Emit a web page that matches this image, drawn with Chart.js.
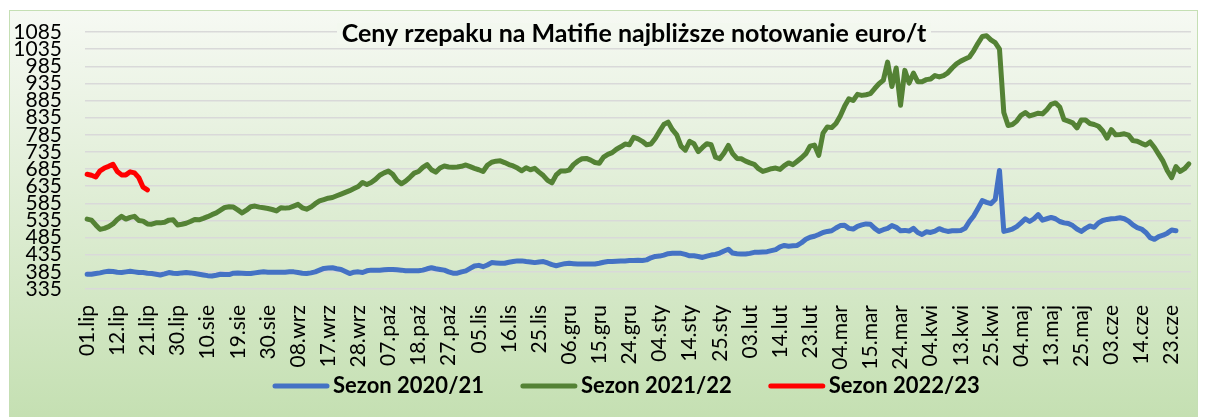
<!DOCTYPE html>
<html>
<head>
<meta charset="utf-8">
<script src="https://cdn.jsdelivr.net/npm/chart.js@4.4.1/dist/chart.umd.min.js"></script>
<style>
  html, body { margin: 0; padding: 0; background: #fff; }
  #frame {
    position: absolute; left: 9px; top: 10px; width: 1187px; height: 420px;
    border: 1.5px solid #c5dfb4;
    background: linear-gradient(#f6f9f3, #c3dfb0);
  }
  #c { position: absolute; left: 0; top: 0; }
</style>
</head>
<body>
<div id="frame"></div>
<canvas id="c" width="1205" height="417"></canvas>
<script>
// Ceny rzepaku na Matifie - najbliższe notowanie, euro/t

const tickLabels = [
  '01.lip', '12.lip', '21.lip', '30.lip', '10.sie', '19.sie', '30.sie', '08.wrz', '17.wrz', '28.wrz',
  '07.paź', '18.paź', '27.paź', '05.lis', '16.lis', '25.lis', '06.gru', '15.gru', '24.gru', '04.sty',
  '14.sty', '25.sty', '03.lut', '14.lut', '23.lut', '04.mar', '15.mar', '24.mar', '04.kwi', '13.kwi',
  '25.kwi', '04.maj', '13.maj', '25.maj', '03.cze', '14.cze', '23.cze'
];
const daysPerLabel = 7;     // one label every 7 sessions
const sessionCount = 257;   // trading sessions on the axis

// Sezon 2020/21
const season2021 = [
  378,378,380,382,385,387,386,384,383,385,
  387,385,383,383,381,380,378,376,379,383,
  381,380,382,383,382,380,378,376,374,373,
  375,378,377,377,381,382,381,380,380,382,
  384,385,384,384,384,384,384,385,385,383,
  381,380,382,385,390,395,396,397,394,392,
  386,380,384,385,383,388,390,390,390,391,
  392,392,391,390,388,388,388,388,390,394,
  397,394,392,390,385,381,381,385,388,395,
  402,404,400,405,412,411,410,410,413,415,
  417,417,415,414,412,414,415,411,406,403,
  406,409,410,409,408,408,408,408,408,410,
  413,415,415,416,417,417,418,418,419,418,
  420,426,430,431,434,438,439,439,439,436,
  432,432,430,427,431,434,436,440,446,451,
  440,438,437,437,439,442,442,443,444,447,
  450,458,462,460,461,462,470,480,486,489,
  494,500,503,505,513,520,521,512,510,518,
  522,525,524,512,503,508,512,520,515,505,
  506,504,512,500,494,502,500,504,511,506,
  503,505,505,506,512,532,548,570,593,588,
  584,596,681,503,506,510,517,528,540,532,
  540,552,536,540,544,540,532,528,526,520,
  510,503,512,519,515,528,535,538,540,541,
  543,540,533,522,514,510,500,485,480,488,
  492,498,507,505
];

// Sezon 2021/22
const season2122 = [
  539,536,522,509,512,517,525,538,547,539,
  544,547,535,533,525,524,528,528,530,536,
  537,522,524,527,532,538,537,541,546,552,
  557,565,573,575,574,566,557,565,575,577,
  574,572,570,567,563,572,571,572,577,582,
  572,568,574,584,592,596,600,602,607,612,
  617,622,628,634,646,640,646,655,667,674,
  679,670,652,642,650,661,673,678,690,698,
  683,676,688,694,691,690,691,693,697,692,
  687,683,678,696,705,708,709,704,698,694,
  688,680,689,683,687,676,666,652,645,668,
  679,679,682,698,708,715,716,711,704,702,
  720,728,733,743,750,758,756,778,773,766,
  756,758,774,795,815,822,800,785,752,740,
  766,759,736,748,759,756,720,715,732,754,
  730,716,715,708,703,699,686,678,682,686,
  688,684,695,703,698,708,718,730,752,755,
  725,790,808,806,818,840,868,890,885,903,
  900,902,905,920,934,944,997,926,980,871,
  973,936,965,940,940,946,948,958,954,958,
  966,980,992,1000,1006,1012,1030,1052,1072,1074,
  1062,1054,1035,850,812,815,825,842,850,840,
  844,848,846,858,874,878,866,829,825,820,
  805,828,828,818,815,810,796,775,800,785,
  786,788,784,768,766,760,755,764,748,728,
  708,680,660,692,678,686,700
];

// Sezon 2022/23
const season2223 = [670,667,662,680,688,693,699,678,668,668,677,674,660,632,624];

const yMin = 335, yMax = 1085, yStep = 50;

const categories = [];
for (let i = 0; i < sessionCount; i++) {
  categories.push(i % daysPerLabel === 0 ? (tickLabels[i / daysPerLabel] || '') : '');
}

const FONT = 'Lato, "Open Sans", sans-serif';

// title sits on its own light box over the top gridline, like the Excel chart
const titlePlugin = {
  id: 'boxTitle',
  afterDraw(chart) {
    const ctx = chart.ctx;
    ctx.save();
    ctx.fillStyle = '#f3f8ef';
    ctx.fillRect(337, 23, 594, 21);
    ctx.font = 'bold 25px ' + FONT;
    ctx.fillStyle = '#000';
    ctx.textAlign = 'center';
    ctx.textBaseline = 'alphabetic';
    ctx.fillText('Ceny rzepaku na Matifie najbliższe notowanie euro/t', 634, 42);
    ctx.restore();
  }
};

// Excel-like legend under the axis: short thick line, bold name, wide gaps
const legendPlugin = {
  id: 'lineLegend',
  afterDraw(chart) {
    const ctx = chart.ctx;
    const y = 386;
    let x = 273;
    ctx.save();
    ctx.font = 'bold 22px ' + FONT;
    ctx.textBaseline = 'middle';
    ctx.textAlign = 'left';
    chart.data.datasets.forEach(ds => {
      ctx.strokeStyle = ds.borderColor;
      ctx.lineWidth = 5;
      ctx.lineCap = 'round';
      ctx.beginPath();
      ctx.moveTo(x + 2, y);
      ctx.lineTo(x + 54, y);
      ctx.stroke();
      ctx.fillStyle = '#000';
      ctx.fillText(ds.label, x + 60, y);
      x += 60 + ctx.measureText(ds.label).width + 37;
    });
    ctx.restore();
  }
};

const line = (label, data, color) => ({
  label: label,
  data: data,
  borderColor: color,
  backgroundColor: color,
  borderWidth: 5,
  pointRadius: 0,
  pointHoverRadius: 0,
  tension: 0,
  borderCapStyle: 'round',
  borderJoinStyle: 'round',
  fill: false
});

new Chart(document.getElementById('c'), {
  type: 'line',
  data: {
    labels: categories,
    datasets: [
      line('Sezon 2020/21', season2021, '#4472c4'),
      line('Sezon 2021/22', season2122, '#548235'),
      line('Sezon 2022/23', season2223, '#ff0000')
    ]
  },
  options: {
    responsive: false,
    animation: false,
    layout: { padding: { top: 32, right: 14, bottom: 0, left: 0 } },
    plugins: {
      title: { display: false },
      tooltip: { enabled: false },
      legend: { display: false }
    },
    scales: {
      x: {
        offset: true,
        grid: { display: false, drawTicks: false },
        border: { display: false },
        ticks: {
          autoSkip: false,
          minRotation: 90,
          maxRotation: 90,
          padding: 16,
          color: '#000',
          font: { family: FONT, size: 21 }
        },
        afterFit(scale) {
          // fixed box so the plot lands where the original has it
          scale.height = 128;
          scale.paddingLeft = 0;
          scale.paddingRight = 0;
        }
      },
      y: {
        min: yMin,
        max: yMax,
        grid: { color: '#d9d9d9', lineWidth: 1.5, drawTicks: false },
        border: { display: false },
        ticks: {
          stepSize: yStep,
          autoSkip: false,
          padding: 23,
          color: '#000',
          font: { family: FONT, size: 21 },
          callback: (v) => String(v)
        },
        afterFit(scale) {
          scale.width = 85;
          scale.paddingTop = 0;
          scale.paddingBottom = 0;
        }
      }
    }
  },
  plugins: [titlePlugin, legendPlugin]
});
</script>
</body>
</html>
